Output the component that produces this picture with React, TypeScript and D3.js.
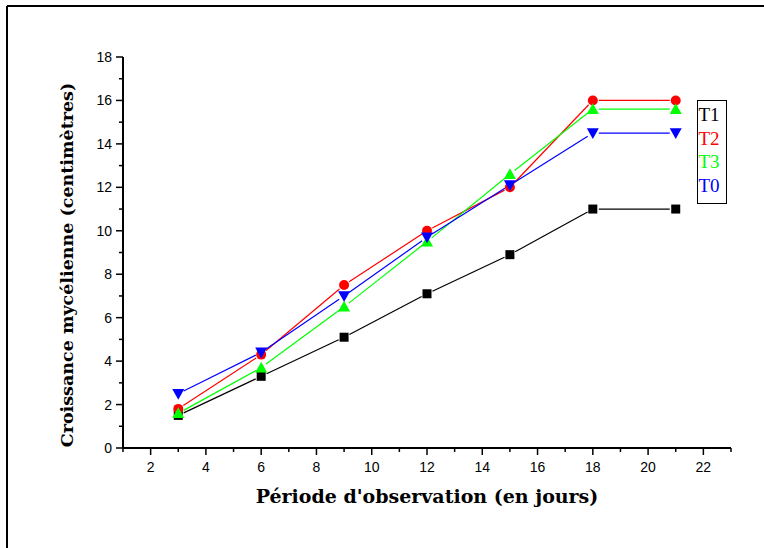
import React from "react";
import * as d3 from "d3";

const days = [3, 6, 9, 12, 15, 18, 21];
const t1 = [1.5, 3.3, 5.1, 7.1, 8.9, 11, 11];
const t2 = [1.8, 4.3, 7.5, 10, 12, 16, 16];
const t3 = [1.6, 3.7, 6.5, 9.5, 12.6, 15.6, 15.6];
const t0 = [2.5, 4.4, 7.0, 9.7, 12.1, 14.5, 14.5];
const seriesNames = ["T1", "T2", "T3", "T0"];
const seriesColors = ["#000000", "#ff0000", "#00ff00", "#0000ff"];
const xTicks = [2, 4, 6, 8, 10, 12, 14, 16, 18, 20, 22];
const yTicks = [0, 2, 4, 6, 8, 10, 12, 14, 16, 18];

const W = 764, H = 548;

export default function App() {
  const x = d3.scaleLinear().domain([1, 23]).range([123, 731]);
  const y = d3.scaleLinear().domain([0, 18]).range([448, 57]);
  const allSeries = [t1, t2, t3, t0];
  const shapes = ["square", "circle", "up", "down"];

  const marker = (shape: string, cx: number, cy: number, color: string, key: string) => {
    if (shape === "square") return <rect key={key} x={cx - 4.5} y={cy - 4.5} width={9} height={9} fill={color} />;
    if (shape === "circle") return <circle key={key} cx={cx} cy={cy} r={5} fill={color} />;
    const s = 6;
    if (shape === "up") return <path key={key} d={`M${cx},${cy - s}L${cx + s},${cy + s * 0.8}L${cx - s},${cy + s * 0.8}Z`} fill={color} />;
    return <path key={key} d={`M${cx},${cy + s}L${cx + s},${cy - s * 0.8}L${cx - s},${cy - s * 0.8}Z`} fill={color} />;
  };

  const gap = 6;
  const xMinor = d3.range(1, 24, 1).filter((v) => v % 2 === 1);
  const yMinor = d3.range(1, 18, 2);

  return (
    <svg width={W} height={H} style={{ position: "absolute", left: 0, top: 0, background: "#fff" }}>
      <rect x={0} y={0} width={W} height={H} fill="#fff" />
      {/* frame */}
      <line x1={7} y1={6} x2={W} y2={6} stroke="#000" strokeWidth={2} />
      <line x1={7} y1={6} x2={7} y2={H} stroke="#000" strokeWidth={2} />

      {/* series lines (trimmed near markers) */}
      {allSeries.map((vals, si) =>
        vals.slice(0, -1).map((v, i) => {
          const x1 = x(days[i]), y1 = y(v), x2 = x(days[i + 1]), y2 = y(vals[i + 1]);
          const len = Math.hypot(x2 - x1, y2 - y1);
          const ux = (x2 - x1) / len, uy = (y2 - y1) / len;
          return (
            <line key={`l${si}-${i}`} x1={x1 + ux * gap} y1={y1 + uy * gap} x2={x2 - ux * gap} y2={y2 - uy * gap}
              stroke={seriesColors[si]} strokeWidth={1.2} />
          );
        })
      )}
      {allSeries.map((vals, si) => vals.map((v, i) => marker(shapes[si], x(days[i]), y(v), seriesColors[si], `m${si}-${i}`)))}

      {/* axes */}
      <line x1={x(1)} y1={y(0)} x2={x(23)} y2={y(0)} stroke="#000" strokeWidth={2} />
      <line x1={x(1)} y1={y(0)} x2={x(1)} y2={y(18)} stroke="#000" strokeWidth={2} />
      {xTicks.map((t) => (
        <g key={`xt${t}`}>
          <line x1={x(t)} y1={y(0)} x2={x(t)} y2={y(0) + 7} stroke="#000" strokeWidth={1.5} />
          <text x={x(t)} y={y(0) + 24} textAnchor="middle" fontFamily="'Liberation Sans', Arial, sans-serif" fontSize={14}>{t}</text>
        </g>
      ))}
      {xMinor.map((t) => (
        <line key={`xm${t}`} x1={x(t)} y1={y(0)} x2={x(t)} y2={y(0) + 4} stroke="#000" strokeWidth={1.5} />
      ))}
      {yTicks.map((t) => (
        <g key={`yt${t}`}>
          <line x1={x(1) - 7} y1={y(t)} x2={x(1)} y2={y(t)} stroke="#000" strokeWidth={1.5} />
          <text x={x(1) - 11} y={y(t) + 5} textAnchor="end" fontFamily="'Liberation Sans', Arial, sans-serif" fontSize={14}>{t}</text>
        </g>
      ))}
      {yMinor.map((t) => (
        <line key={`ym${t}`} x1={x(1) - 4} y1={y(t)} x2={x(1)} y2={y(t)} stroke="#000" strokeWidth={1.5} />
      ))}

      {/* axis titles */}
      <text x={427} y={503} textAnchor="middle" fontFamily="'DejaVu Serif', serif" fontWeight="bold" fontSize={19}>
        Période d'observation (en jours)
      </text>
      <text transform="translate(73,265) rotate(-90)" textAnchor="middle" fontFamily="'DejaVu Serif', serif" fontWeight="bold" fontSize={17.5}>
        Croissance mycélienne (centimètres)
      </text>

      {/* legend */}
      <rect x={697.5} y={100.5} width={29} height={103} fill="#fff" stroke="#000" strokeWidth={1} />
      {seriesNames.map((n, i) => (
        <text key={n} x={698.5} y={121 + i * 23.5} fontFamily="'Liberation Serif', 'Times New Roman', serif" fontSize={19} fill={seriesColors[i]}>{n}</text>
      ))}
    </svg>
  );
}
